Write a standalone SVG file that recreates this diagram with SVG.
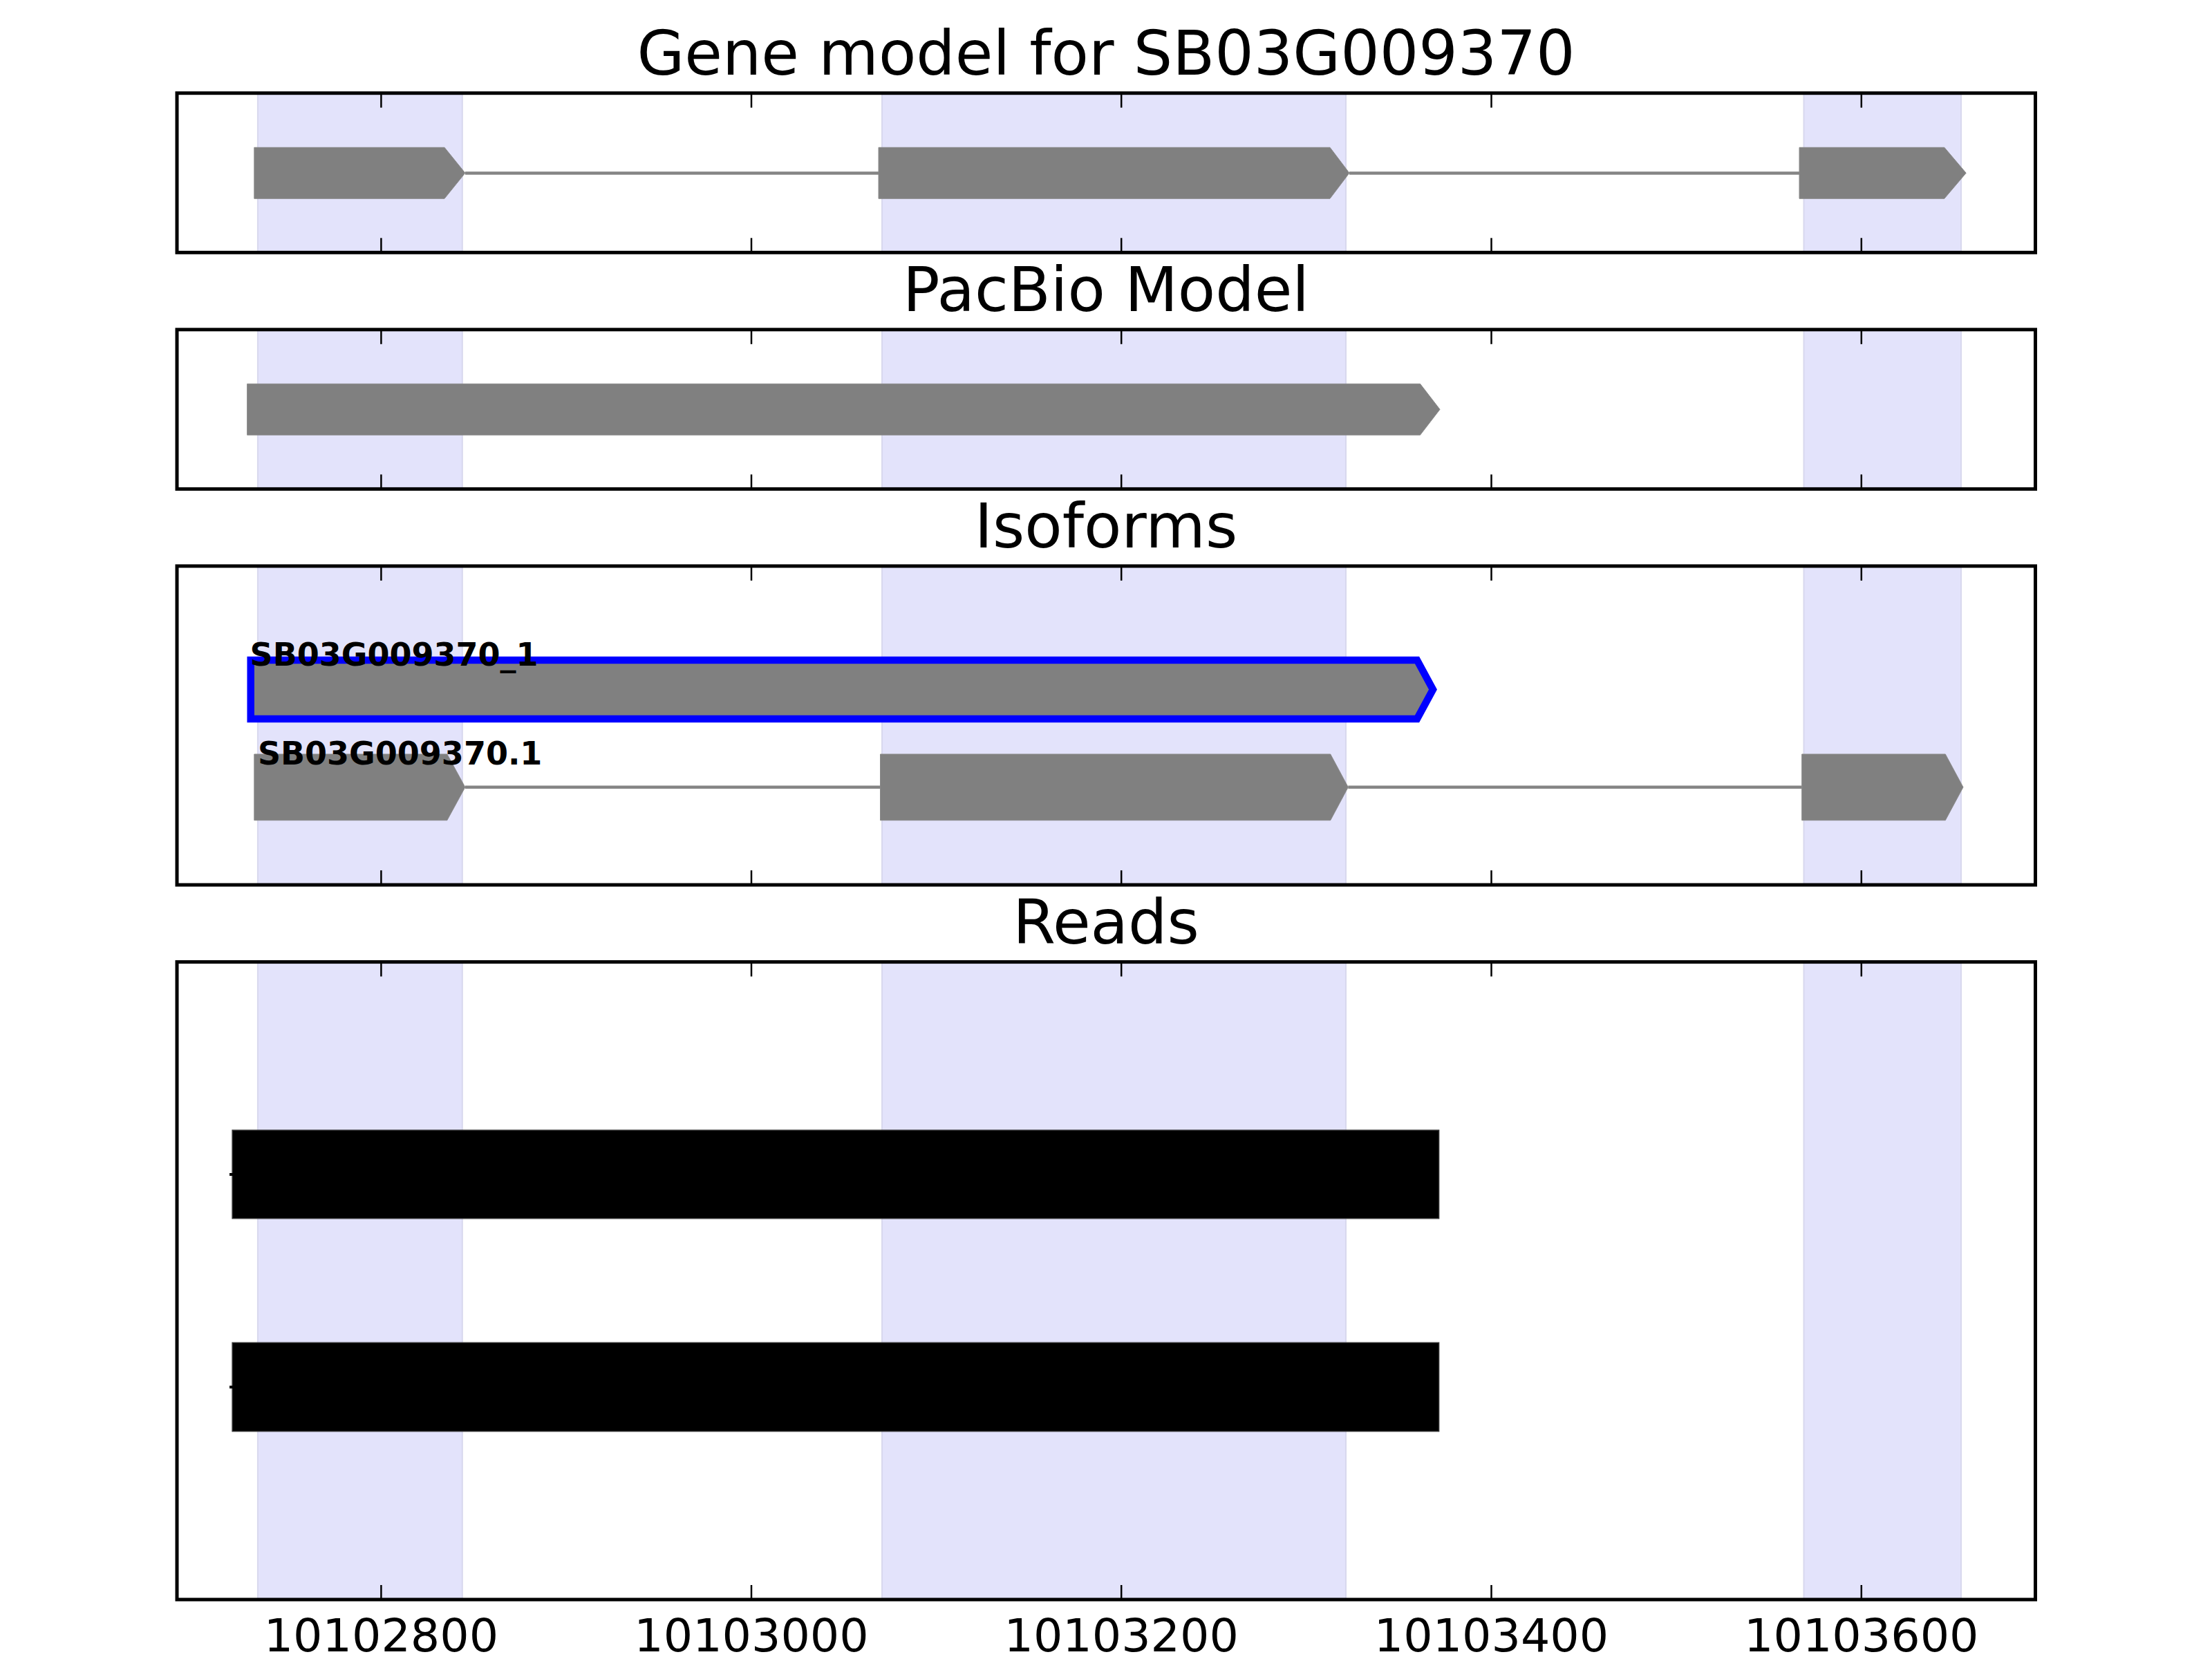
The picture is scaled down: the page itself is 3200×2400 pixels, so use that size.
<svg xmlns="http://www.w3.org/2000/svg" width="3200" height="2400" viewBox="0 0 3200 2400">
<style>
.frame{fill:none;stroke:#000;stroke-width:5}
.band{fill:#e3e3fb;stroke:#d8d8ee;stroke-width:2}
.tick{stroke:#000;stroke-width:2.5}
.exon{fill:#808080;stroke:#8a8a8a;stroke-width:1}
.intron{stroke:#858585;stroke-width:4.5;fill:none}
.title{font-family:"DejaVu Sans",sans-serif;font-size:88.9px;fill:#000;text-anchor:middle}
.lbl{font-family:"DejaVu Sans",sans-serif;font-size:46px;font-weight:bold;fill:#000}
.tl{font-family:"DejaVu Sans",sans-serif;font-size:66.7px;fill:#000;text-anchor:middle}
.read{fill:#000;stroke:#333;stroke-width:1.5}
</style>
<defs>
<g id="ticks230">
<line class="tick" x1="551.4" y1="0" x2="551.4" y2="21"/>
<line class="tick" x1="1087" y1="0" x2="1087" y2="21"/>
<line class="tick" x1="1622.2" y1="0" x2="1622.2" y2="21"/>
<line class="tick" x1="2157.5" y1="0" x2="2157.5" y2="21"/>
<line class="tick" x1="2692.8" y1="0" x2="2692.8" y2="21"/>
</g>
<g id="ticksUp">
<line class="tick" x1="551.4" y1="0" x2="551.4" y2="-21"/>
<line class="tick" x1="1087" y1="0" x2="1087" y2="-21"/>
<line class="tick" x1="1622.2" y1="0" x2="1622.2" y2="-21"/>
<line class="tick" x1="2157.5" y1="0" x2="2157.5" y2="-21"/>
<line class="tick" x1="2692.8" y1="0" x2="2692.8" y2="-21"/>
</g>
</defs>
<rect width="3200" height="2400" fill="#fff"/>

<!-- Panel 1 -->
<g id="panel-gene-model">
<text class="title" x="1600" y="107.5">Gene model for SB03G009370</text>
<rect class="band" x="372.9" y="134.7" width="295.9" height="230.6"/>
<rect class="band" x="1276" y="134.7" width="671" height="230.6"/>
<rect class="band" x="2609.5" y="134.7" width="227.5" height="230.6"/>
<use href="#ticks230" y="134.7"/>
<use href="#ticksUp" y="365.3"/>
<rect class="frame" x="256" y="134.7" width="2688.5" height="230.6"/>
</g>
<g id="gene-exon1"><polygon class="exon" points="367.8,213.3 643,213.3 672.9,250.3 643,287.3 367.8,287.3"/></g>
<g id="gene-exon2"><polygon class="exon" points="1271,213.3 1924,213.3 1952,250.3 1924,287.3 1271,287.3"/></g>
<g id="gene-exon3"><polygon class="exon" points="2603,213.3 2812.8,213.3 2844.2,250.3 2812.8,287.3 2603,287.3"/></g>

<!-- Panel 2 -->
<g id="panel-pacbio">
<text class="title" x="1600" y="449.8">PacBio Model</text>
<rect class="band" x="372.9" y="476.8" width="295.9" height="230.6"/>
<rect class="band" x="1276" y="476.8" width="671" height="230.6"/>
<rect class="band" x="2609.5" y="476.8" width="227.5" height="230.6"/>
<use href="#ticks230" y="476.8"/>
<use href="#ticksUp" y="707.4"/>
<rect class="frame" x="256" y="476.8" width="2688.5" height="230.6"/>
</g>
<g id="pacbio-model"><polygon class="exon" points="357.6,555.3 2054.5,555.3 2083,592.3 2054.5,629.3 357.6,629.3"/></g>

<!-- Panel 3 -->
<g id="panel-isoforms">
<text class="title" x="1600" y="791.9">Isoforms</text>
<rect class="band" x="372.9" y="818.9" width="295.9" height="461.2"/>
<rect class="band" x="1276" y="818.9" width="671" height="461.2"/>
<rect class="band" x="2609.5" y="818.9" width="227.5" height="461.2"/>
<use href="#ticks230" y="818.9"/>
<use href="#ticksUp" y="1280.1"/>
<rect class="frame" x="256" y="818.9" width="2688.5" height="461.2"/>
</g>
<g id="isoform-1">
<polygon points="362.7,955 2050,955 2073,997.5 2050,1040 362.7,1040" fill="#808080" stroke="#0000ff" stroke-width="10.5" stroke-linejoin="miter"/>
<text class="lbl" x="361.6" y="963.3">SB03G009370_1</text>
</g>
<g id="isoform-2">
<polygon class="exon" points="367.8,1091 646.8,1091 672.9,1138.8 646.8,1186.7 367.8,1186.7"/>
<polygon class="exon" points="1273.5,1091 1924.7,1091 1950.3,1138.8 1924.7,1186.7 1273.5,1186.7"/>
<polygon class="exon" points="2606.7,1091 2814.3,1091 2840,1138.8 2814.3,1186.7 2606.7,1186.7"/>
<text class="lbl" x="372.9" y="1105.7">SB03G009370.1</text>
</g>

<!-- Panel 4 -->
<g id="panel-reads">
<text class="title" x="1600" y="1364.6">Reads</text>
<rect class="band" x="372.9" y="1391.6" width="295.9" height="922.4"/>
<rect class="band" x="1276" y="1391.6" width="671" height="922.4"/>
<rect class="band" x="2609.5" y="1391.6" width="227.5" height="922.4"/>
<use href="#ticks230" y="1391.6"/>
<use href="#ticksUp" y="2314"/>
<rect class="frame" x="256" y="1391.6" width="2688.5" height="922.4"/>
<text class="tl" x="551.4" y="2388.5">10102800</text>
<text class="tl" x="1087" y="2388.5">10103000</text>
<text class="tl" x="1622.2" y="2388.5">10103200</text>
<text class="tl" x="2157.5" y="2388.5">10103400</text>
<text class="tl" x="2692.8" y="2388.5">10103600</text>
</g>
<g id="read-1"><rect class="read" x="336.1" y="1635" width="1745.5" height="127.7"/></g>
<g id="read-2"><rect class="read" x="336.1" y="1942.4" width="1745.5" height="128.2"/></g>

<g id="connectors">
<line class="intron" x1="672.9" y1="250.5" x2="1271" y2="250.5"/>
<line class="intron" x1="1952" y1="250.5" x2="2603" y2="250.5"/>
<line class="intron" x1="672.9" y1="1138.8" x2="1273.5" y2="1138.8"/>
<line class="intron" x1="1950.3" y1="1138.8" x2="2606.7" y2="1138.8"/>
<line stroke="#000" stroke-width="4" x1="332" y1="1699" x2="340" y2="1699"/>
<line stroke="#000" stroke-width="4" x1="332" y1="2006.6" x2="340" y2="2006.6"/>
</g>
</svg>
